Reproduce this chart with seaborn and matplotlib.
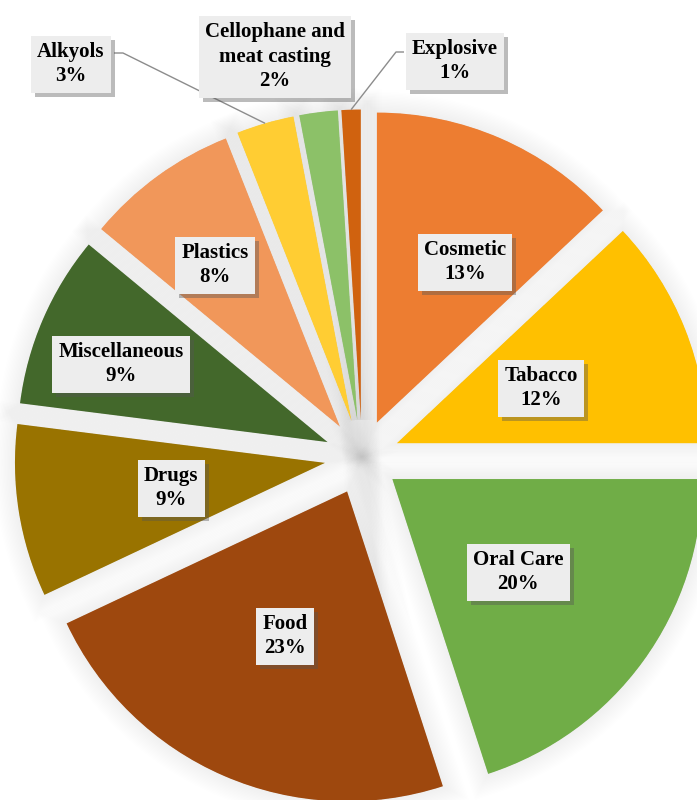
import matplotlib
matplotlib.use("Agg")
import matplotlib.pyplot as plt
import matplotlib.patheffects as pe
import numpy as np
import seaborn as sns

# data
categories = ['Cosmetic', 'Tabacco', 'Oral Care', 'Food', 'Drugs',
              'Miscellaneous', 'Plastics', 'Alkyols',
              'Cellophane and\nmeat casting', 'Explosive']
shares = [13, 12, 20, 23, 9, 9, 8, 3, 2, 1]
colors = ['#ED7D31', '#FFC000', '#70AD47', '#9E480E', '#997300',
          '#43682B', '#F1975A', '#FFCD33', '#8CC168', '#D0620F']

# label box centres in pixel coordinates (y measured from top)
label_xy = [(465, 262), (541, 388), (518, 572), (285, 636), (171, 488),
            (121, 364), (215, 265), (71, 64), (275, 57), (455, 61)]
# leader lines: (start of stub, elbow) in pixels, only for outside labels
leaders = {7: ((114, 53), (123, 53)), 9: ((404, 52), (396, 52))}

W, H = 697, 800
centre = (362, H - 457)
radius = 310
explode = 37.5

sns.set_theme(style='white')
plt.rcParams['font.family'] = ['Liberation Serif', 'DejaVu Serif']

fig = plt.figure(figsize=(W / 100, H / 100), dpi=100)
ax = fig.add_axes([0, 0, 1, 1])

# soft shadow underneath the slices (many faint strokes)
shadow, _ = ax.pie(shares, explode=[explode] * len(shares), radius=radius,
                   center=centre, startangle=90, counterclock=False,
                   colors=['#000000'] * len(shares),
                   wedgeprops=dict(linewidth=0))
for w in shadow:
    w.set_path_effects([pe.Stroke(linewidth=lw, foreground='k', alpha=0.0045)
                        for lw in range(30, 0, -2)])
    w.set_zorder(1)

wedges, _ = ax.pie(shares, explode=[explode] * len(shares), radius=radius,
                   center=centre, startangle=90, counterclock=False,
                   colors=colors, wedgeprops=dict(linewidth=0))
for w in wedges:
    w.set_zorder(2)

for i, (name, val) in enumerate(zip(categories, shares)):
    x, y = label_xy[i]
    if i in leaders:
        w = wedges[i]
        tm = np.deg2rad((w.theta1 + w.theta2) / 2)
        px = w.center[0] + w.r * np.cos(tm)
        py = w.center[1] + w.r * np.sin(tm)
        (sx, sy), (ex, ey) = leaders[i]
        ax.plot([sx, ex, px], [H - sy, H - ey, py], color='#8c8c8c',
                lw=1, zorder=3, solid_capstyle='butt')
    t = ax.text(x, H - y, f'{name}\n{val}%', ha='center', va='center',
                fontsize=15, fontweight='bold', color='black',
                linespacing=1.3, zorder=5,
                bbox=dict(boxstyle='square,pad=0.3', fc='#EDEDED', ec='none'))
    t.get_bbox_patch().set_path_effects([
        pe.SimplePatchShadow(offset=(3, -3), shadow_rgbFace='#555555', alpha=0.4),
        pe.Normal()])

ax.set_xlim(0, W)
ax.set_ylim(0, H)
ax.set_aspect('equal', adjustable='box')
ax.axis('off')

fig.savefig('out.png', dpi=100, facecolor='white')
